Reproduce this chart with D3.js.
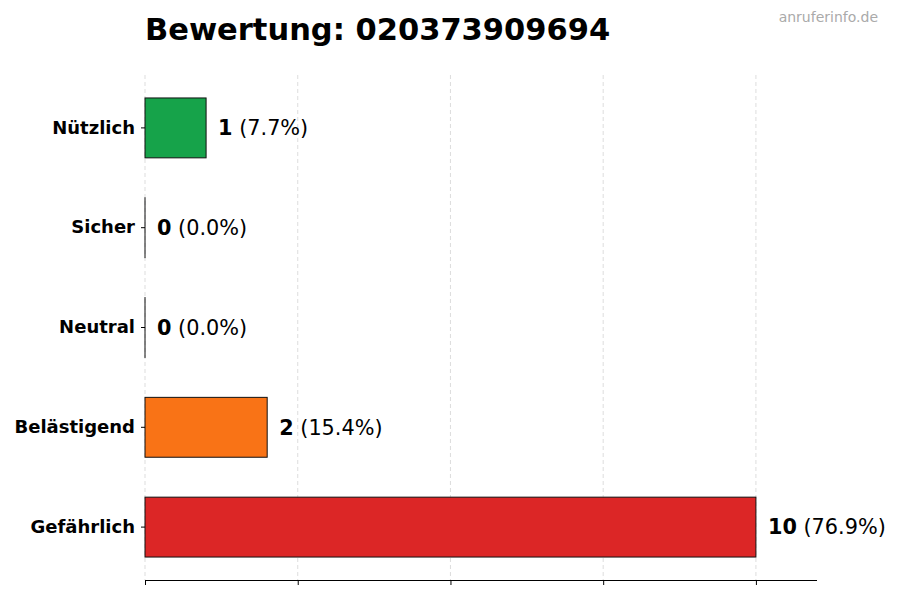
<!DOCTYPE html>
<html>
<head>
<meta charset="utf-8">
<script src="https://cdn.jsdelivr.net/npm/d3@7"></script>
<style>
  body { margin: 0; background: #fff; }
  svg { font-family: "DejaVu Sans", sans-serif; }
</style>
</head>
<body>
<svg></svg>
<script>
const width = 900;
const height = 600;

const categories = ["Nützlich", "Sicher", "Neutral", "Belästigend", "Gefährlich"];
const counts = [1, 0, 0, 2, 10];
const percents = ["7.7%", "0.0%", "0.0%", "15.4%", "76.9%"];
const colors = ["#16a34a", "#9ca3af", "#6b7280", "#f97316", "#dc2626"];
const xTicks = [0, 2.5, 5, 7.5, 10];

const svg = d3.select("svg").attr("width", width).attr("height", height);

const xScale = d3.scaleLinear().domain([0, 11]).range([145, 817]);
const yScale = d3.scaleBand().domain(categories).range([78, 577])
  .paddingInner(0.4).paddingOuter(0.2);

// grid
svg.append("g")
  .selectAll("line")
  .data(xTicks)
  .enter()
  .append("line")
  .attr("x1", d => xScale(d))
  .attr("x2", d => xScale(d))
  .attr("y1", 75)
  .attr("y2", 580)
  .attr("stroke", "#d4d4d4")
  .attr("stroke-width", 0.8)
  .attr("stroke-dasharray", "4,3");

// bars
svg.append("g")
  .selectAll("rect")
  .data(categories)
  .enter()
  .append("rect")
  .attr("x", xScale(0))
  .attr("y", d => yScale(d))
  .attr("width", (d, i) => Math.max(xScale(counts[i]) - xScale(0), 0.01))
  .attr("height", yScale.bandwidth())
  .attr("fill", (d, i) => colors[i])
  .attr("stroke", "#111")
  .attr("stroke-width", 1);

// value labels
const labels = svg.append("g")
  .selectAll("text")
  .data(categories)
  .enter()
  .append("text")
  .attr("x", (d, i) => xScale(counts[i]) + 12)
  .attr("y", d => yScale(d) + yScale.bandwidth() / 2)
  .attr("dy", "0.35em")
  .attr("font-size", 20.8);
labels.append("tspan").attr("font-weight", "bold").text((d, i) => counts[i]);
labels.append("tspan").text((d, i) => " (" + percents[i] + ")");

// axes
const xAxis = d3.axisBottom(xScale).tickValues(xTicks).tickFormat("").tickSize(5).tickSizeOuter(0);
const xg = svg.append("g").attr("transform", "translate(0,580)").call(xAxis);
xg.select(".domain").attr("d", "M145,0.5H817").attr("stroke", "#000");

const yAxis = d3.axisLeft(yScale).tickSize(4).tickPadding(6);
const yg = svg.append("g").attr("transform", "translate(145,0)").call(yAxis);
yg.select(".domain").remove();
yg.selectAll("text")
  .attr("font-size", 18)
  .attr("font-weight", "bold")
  .attr("fill", "#000")
  .attr("font-family", "DejaVu Sans, sans-serif");

// title
svg.append("text")
  .attr("x", 145)
  .attr("y", 40)
  .attr("font-size", 30.5)
  .attr("font-weight", "bold")
  .text("Bewertung: 020373909694");

svg.append("text")
  .attr("x", 878)
  .attr("y", 22)
  .attr("text-anchor", "end")
  .attr("font-size", 14)
  .attr("fill", "#aaa")
  .text("anruferinfo.de");
</script>
</body>
</html>
